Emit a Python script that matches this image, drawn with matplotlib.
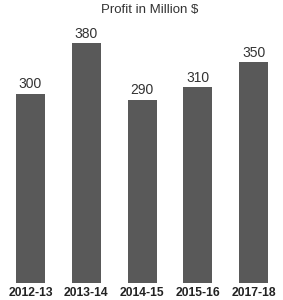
import matplotlib
matplotlib.use("Agg")
import matplotlib.pyplot as plt

plt.rcParams['font.family'] = ['Liberation Sans', 'DejaVu Sans']

years = ["2012-13", "2013-14", "2014-15", "2015-16", "2017-18"]
profit = [300, 380, 290, 310, 350]

W, H = 283, 300
fig = plt.figure(figsize=(W/100, H/100), dpi=100)
ax = fig.add_axes([2.6/W, 17/H, 279/W, 250/H])
x = range(len(years))
bars = ax.bar(x, profit, width=0.52, color="#595959")
ax.set_xlim(-0.5, 4.5)
ax.set_ylim(0, 396)
for xi, v in zip(x, profit):
    ax.text(xi, v + 4, str(v), ha="center", va="bottom", fontsize=10, color="#333333")
ax.set_xticks(list(x))
ax.set_xticklabels(years, fontsize=8.7, fontweight="bold", color="#222222")
ax.tick_params(axis="x", length=0, pad=3)
ax.set_yticks([])
for s in ax.spines.values():
    s.set_visible(False)
fig.text(150/W, 1 - 10/H, "Profit in Million $", ha="center", va="center", fontsize=9.5, color="#333333")
fig.savefig("out.png", dpi=100)
